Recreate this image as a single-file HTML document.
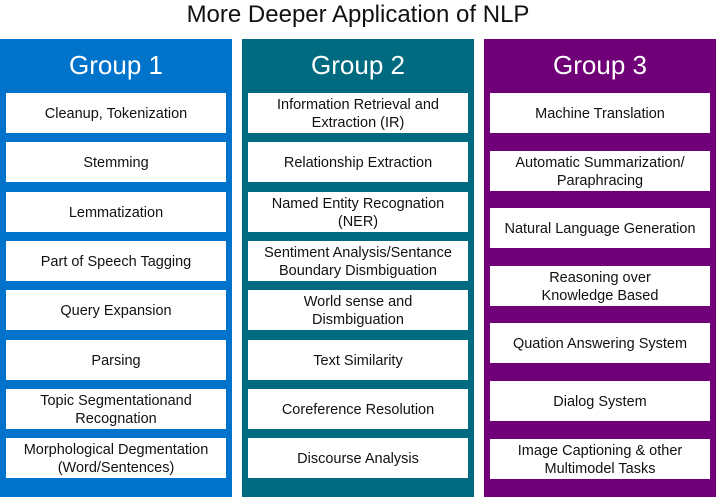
<!DOCTYPE html>
<html><head><style>
body{margin:0;width:716px;height:497px;background:#fff;font-family:"Liberation Sans",sans-serif;position:relative;overflow:hidden}
.t{position:absolute;top:0;left:0;width:716px;text-align:center;font-size:24px;line-height:30px;color:#111}
.p{position:absolute;top:39px;height:458px;width:232px}
.h{position:absolute;top:48px;width:100%;text-align:center;color:#fff;font-size:26px;line-height:34px}
.b{position:absolute;left:6px;width:220px;height:40px;background:#fff;display:flex;align-items:center;justify-content:center;text-align:center;font-size:14.5px;line-height:18px;color:#111;box-sizing:border-box;white-space:nowrap;padding-top:1px}
</style></head><body>
<div class="t">More Deeper Application of NLP</div>
<div class="p" style="left:0;background:#0073cb">
<div class="h" style="top:9px">Group 1</div>
<div class="b" style="top:54px">Cleanup, Tokenization</div>
<div class="b" style="top:103px">Stemming</div>
<div class="b" style="top:153px">Lemmatization</div>
<div class="b" style="top:202px">Part of Speech Tagging</div>
<div class="b" style="top:251px">Query Expansion</div>
<div class="b" style="top:301px">Parsing</div>
<div class="b" style="top:350px">Topic Segmentationand<br>Recognation</div>
<div class="b" style="top:399px">Morphological Degmentation<br>(Word/Sentences)</div>
</div>
<div class="p" style="left:242px;background:#006b80">
<div class="h" style="top:9px">Group 2</div>
<div class="b" style="top:54px">Information Retrieval and<br>Extraction (IR)</div>
<div class="b" style="top:103px">Relationship Extraction</div>
<div class="b" style="top:153px">Named Entity Recognation<br>(NER)</div>
<div class="b" style="top:202px">Sentiment Analysis/Sentance<br>Boundary Dismbiguation</div>
<div class="b" style="top:251px">World sense and<br>Dismbiguation</div>
<div class="b" style="top:301px">Text Similarity</div>
<div class="b" style="top:350px">Coreference Resolution</div>
<div class="b" style="top:399px">Discourse Analysis</div>
</div>
<div class="p" style="left:484px;background:#6f0077">
<div class="h" style="top:9px">Group 3</div>
<div class="b" style="top:54px">Machine Translation</div>
<div class="b" style="top:112px">Automatic Summarization/<br>Paraphracing</div>
<div class="b" style="top:169px">Natural Language Generation</div>
<div class="b" style="top:227px">Reasoning over<br>Knowledge Based</div>
<div class="b" style="top:284px">Quation Answering System</div>
<div class="b" style="top:342px">Dialog System</div>
<div class="b" style="top:400px">Image Captioning &amp; other<br>Multimodel Tasks</div>
</div>
</body></html>
